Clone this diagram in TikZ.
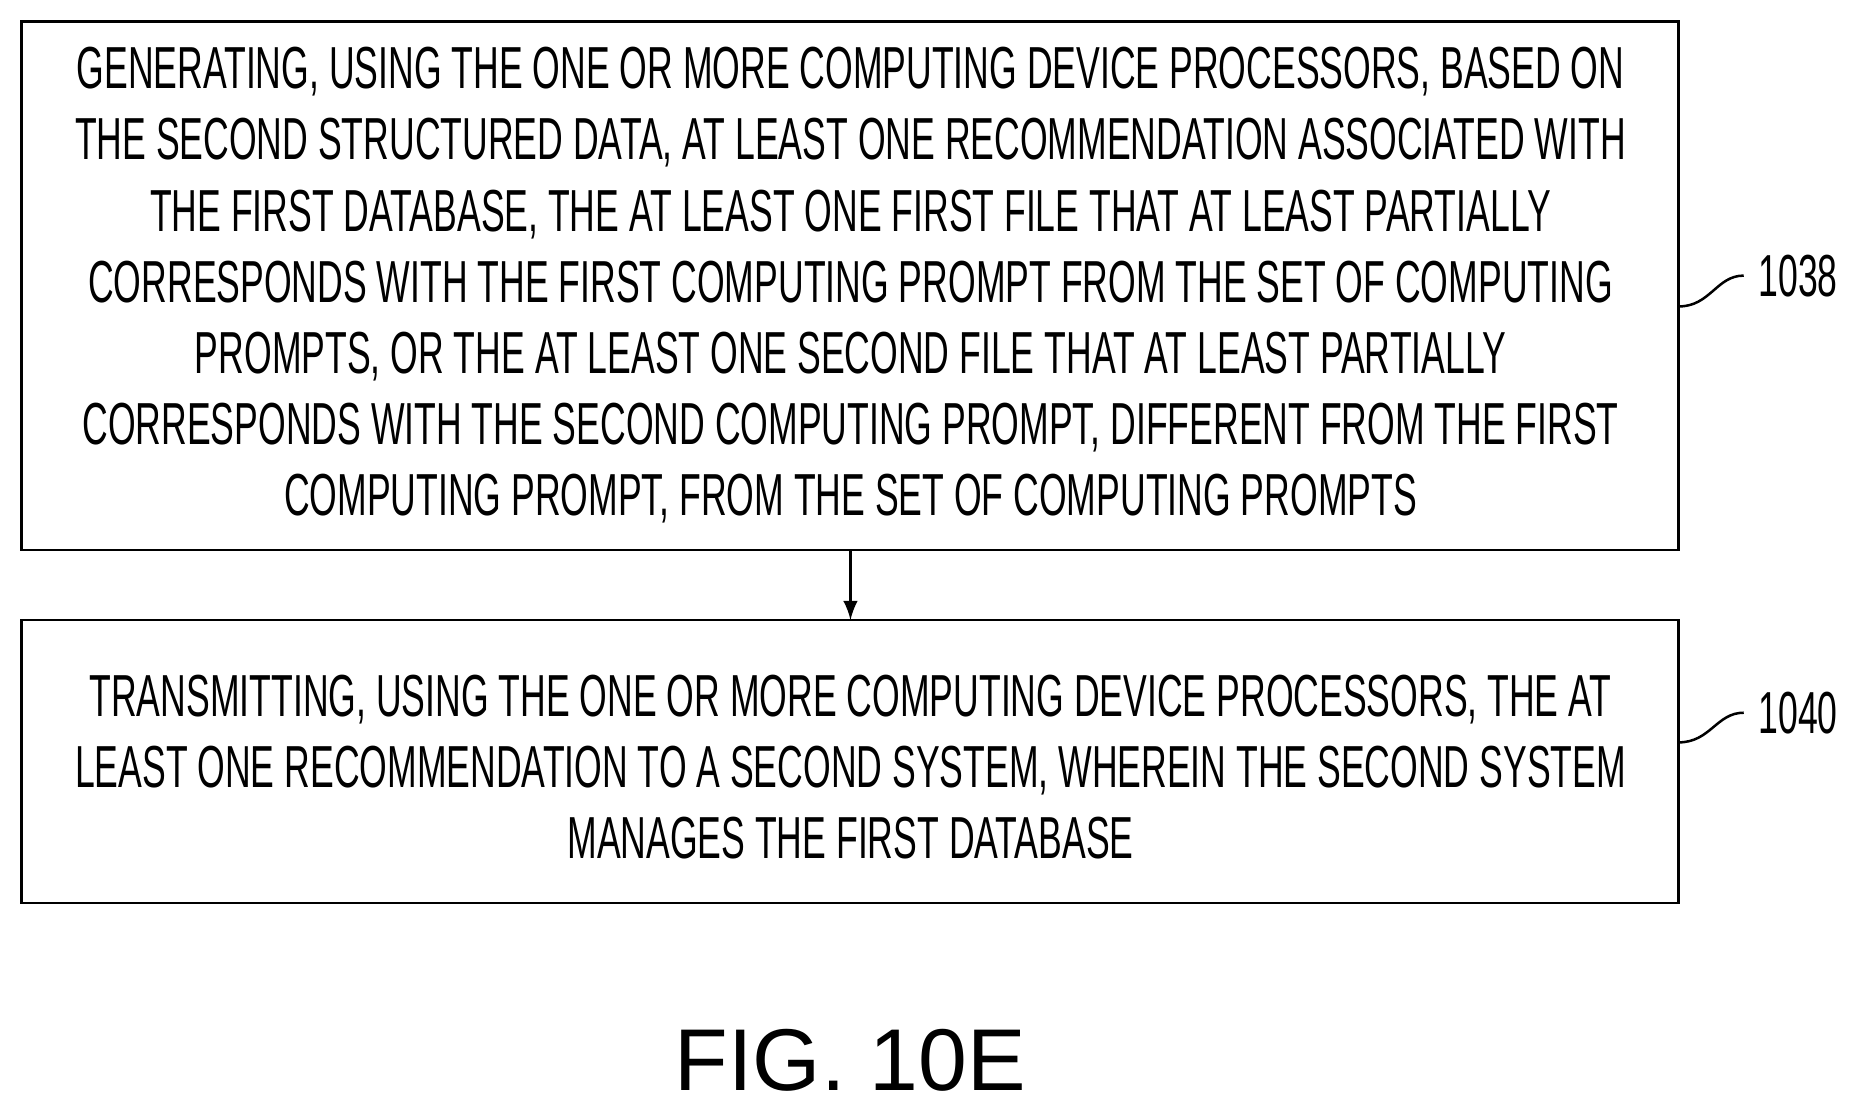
\documentclass[tikz,border=0pt]{standalone}
\usepackage{fontspec}
\setmainfont{Liberation Sans}
\newfontfamily\narrowf[FakeStretch=0.6]{Liberation Sans}
\begin{document}
\begin{tikzpicture}[x=0.01cm,y=-0.01cm,
  boxst/.style={draw,line width=0.6pt,inner sep=0pt},
  txt/.style={align=center,font=\narrowf\fontsize{14.2}{17}\selectfont},
  lbl/.style={font=\narrowf\fontsize{14.2}{17}\selectfont,anchor=west}]
\useasboundingbox (0,0) rectangle (1560,935);
\draw[boxst] (18,18) rectangle (1413,463);
\draw[boxst] (18,522) rectangle (1413,760);
\coordinate (b1) at (716,463);
\coordinate (b2) at (716,522);
\node[txt] (t1) at (716,240) {GENERATING, USING THE ONE OR MORE COMPUTING DEVICE PROCESSORS, BASED ON\\THE SECOND STRUCTURED DATA, AT LEAST ONE RECOMMENDATION ASSOCIATED WITH\\THE FIRST DATABASE, THE AT LEAST ONE FIRST FILE THAT AT LEAST PARTIALLY\\CORRESPONDS WITH THE FIRST COMPUTING PROMPT FROM THE SET OF COMPUTING\\PROMPTS, OR THE AT LEAST ONE SECOND FILE THAT AT LEAST PARTIALLY\\CORRESPONDS WITH THE SECOND COMPUTING PROMPT, DIFFERENT FROM THE FIRST\\COMPUTING PROMPT, FROM THE SET OF COMPUTING PROMPTS};
\node[txt] (t2) at (716,646) {TRANSMITTING, USING THE ONE OR MORE COMPUTING DEVICE PROCESSORS, THE AT\\LEAST ONE RECOMMENDATION TO A SECOND SYSTEM, WHEREIN THE SECOND SYSTEM\\MANAGES THE FIRST DATABASE};
\draw[-latex,line width=0.6pt] (b1) -- (b2);
\node[lbl] (l1) at (1468,232) {1038};
\node[lbl] (l2) at (1468,600) {1040};
\draw[line width=0.6pt] (1413,258) .. controls (1440,258) and (1445,232) .. (l1.west);
\draw[line width=0.6pt] (1413,625) .. controls (1440,625) and (1445,600) .. (l2.west);
\node[font=\fontsize{21}{25}\selectfont] (fig) at (716,893) {FIG. 10E};
\end{tikzpicture}
\end{document}
